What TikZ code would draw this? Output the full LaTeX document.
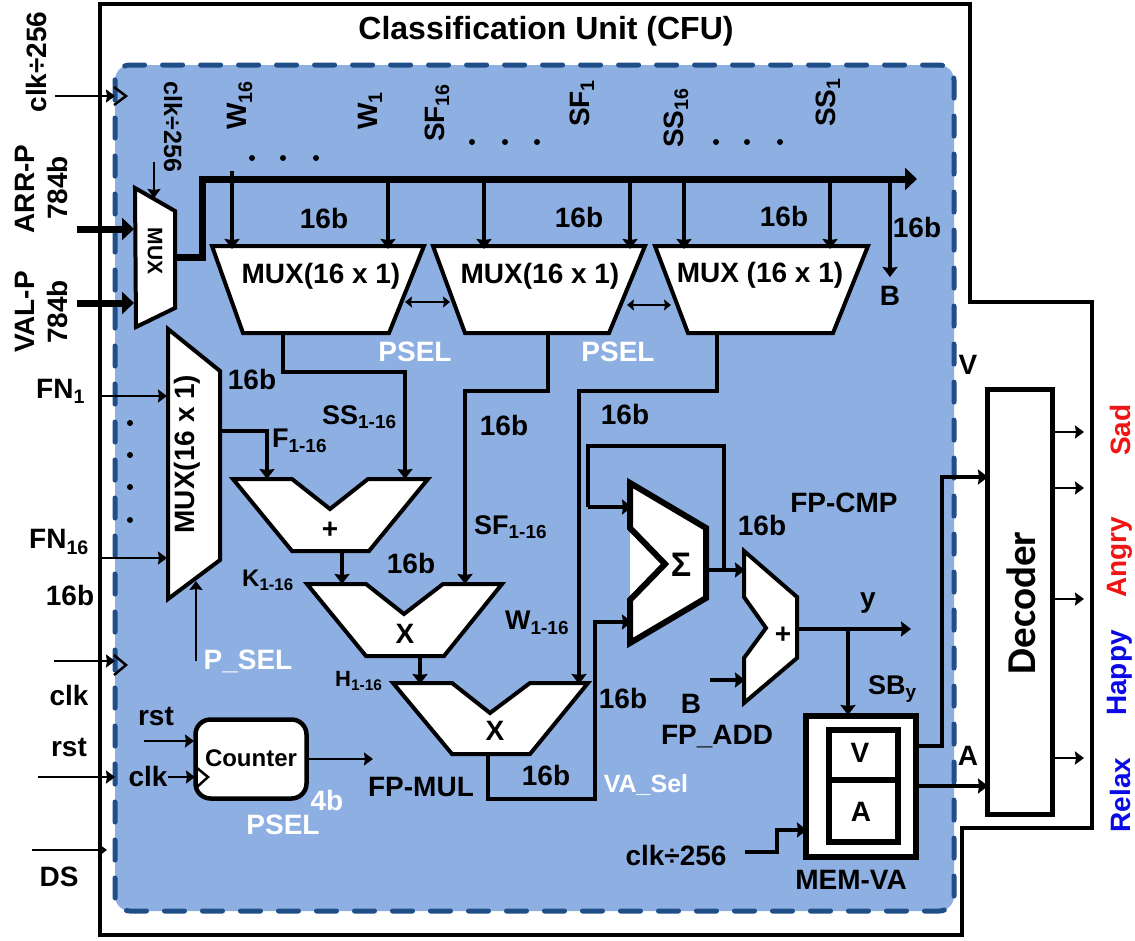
\documentclass[tikz,border=0pt]{standalone}
\usepackage{fontspec}
\setmainfont{Liberation Sans}
\newfontfamily\decfont{Carlito}
\usetikzlibrary{arrows.meta}
\definecolor{cfublue}{RGB}{141,175,226}
\definecolor{cfudash}{RGB}{31,78,136}
\definecolor{sadred}{RGB}{240,20,20}
\definecolor{relaxblue}{RGB}{10,10,230}
\tikzset{
  lbl/.style={font=\fontsize{28}{30}\selectfont\bfseries, inner sep=0pt},
  sublbl/.style={lbl, font=\fontsize{27}{29}\selectfont\bfseries},
  wlbl/.style={lbl, text=white},
  sideup/.style={lbl, rotate=90},
  shp/.style={draw=black, fill=white, line width=4pt},
  outline/.style={draw=black, line width=3.5pt},
  wire/.style={line width=4pt, -{Stealth[length=10pt,width=15pt,inset=1pt]}},
  plainwire/.style={line width=4pt},
  thinw/.style={line width=2.8pt, -{Stealth[length=9pt,width=13pt,inset=1pt]}},
  dblw/.style={line width=2pt, {Stealth[length=7pt,width=11pt,inset=1pt]}-{Stealth[length=7pt,width=11pt,inset=1pt]}},
  fatw/.style={line width=7pt, -{Stealth[length=12pt,width=22pt,inset=0pt]}},
  clkmark/.style={line width=2.5pt, black},
  dotmark/.style={circle, fill=black, minimum size=6pt, inner sep=0pt}
}
\begin{document}
\begin{tikzpicture}[x=1pt,y=-1pt]
\useasboundingbox (0,0) rectangle (1135,940);
\fill[white] (0,0) rectangle (1135,940);
% frames
\draw[outline] (100,4) -- (970,4) -- (970,302) -- (1092,302) -- (1092,828) -- (962,828) -- (962,935) -- (100,935) -- cycle;
\draw[fill=cfublue, draw=cfudash, line width=5pt, line cap=round, dash pattern=on 20pt off 18pt, rounded corners=15pt]
  (115,65) rectangle (954,911);
\node[lbl, font=\fontsize{32}{34}\selectfont\bfseries] (title) at (546,31) {Classification Unit (CFU)};

% input mux
\draw[shp] (135,188) -- (175,211) -- (175,308) -- (136,327) -- cycle;
\node[lbl, rotate=-90, font=\fontsize{21}{23}\selectfont\bfseries] (muxp) at (155,251) {MUX};
\coordinate (muxp-a) at (134,229);
\coordinate (muxp-b) at (134,303);
\coordinate (muxp-s) at (154,198);
\coordinate (muxp-o) at (175,257);

% parameter muxes
\draw[shp] (212,246) -- (424,246) -- (389,333) -- (243,333) -- cycle;
\draw[shp] (433,246) -- (645,246) -- (609,333) -- (465,333) -- cycle;
\draw[shp] (655,246) -- (868,246) -- (833,333) -- (688,333) -- cycle;
\node[lbl] (mxw) at (321,276) {MUX(16 x 1)};
\node[lbl] (mxf) at (540,276) {MUX(16 x 1)};
\node[lbl] (mxs) at (760,275) {MUX (16 x 1)};
\coordinate (mxw-a) at (232,249);
\coordinate (mxw-b) at (388,249);
\coordinate (mxf-a) at (484,249);
\coordinate (mxf-b) at (630,249);
\coordinate (mxs-a) at (684,249);
\coordinate (mxs-b) at (830,249);
\coordinate (mxw-o) at (283,333);
\coordinate (mxf-o) at (548,333);
\coordinate (mxs-o) at (717,333);
\coordinate (mxw-r) at (405,302);
\coordinate (mxf-l) at (450,302);
\coordinate (mxf-r) at (627,305);
\coordinate (mxs-l) at (671,305);

% feature mux
\draw[shp] (168,329) -- (220,371) -- (220,560) -- (168,599) -- cycle;
\node[lbl, rotate=90] (mxn) at (187,454) {MUX(16 x 1)};
\coordinate (mxn-a) at (167,396);
\coordinate (mxn-b) at (167,558);
\coordinate (mxn-s) at (196,581);
\coordinate (mxn-o) at (220,431);

% adder and multipliers
\draw[shp] (233,479) -- (292,479) -- (330,509) -- (368,479) -- (428,479) -- (369,551) -- (292,551) -- cycle;
\node[lbl] (addk) at (330,530) {+};
\draw[shp] (307,584) -- (366,584) -- (404,614) -- (443,584) -- (502,584) -- (444,656) -- (366,656) -- cycle;
\node[lbl] (mula) at (405,634) {X};
\draw[shp] (393,683) -- (452,683) -- (490,713) -- (530,683) -- (588,683) -- (530,754) -- (452,754) -- cycle;
\node[lbl] (mulb) at (495,731) {X};
\coordinate (addk-a) at (267,479);
\coordinate (addk-b) at (405,479);
\coordinate (addk-o) at (342,551);
\coordinate (mula-a) at (342,584);
\coordinate (mula-b) at (465,584);
\coordinate (mula-o) at (420,656);
\coordinate (mulb-a) at (420,684);
\coordinate (mulb-b) at (579,684);
\coordinate (mulb-o) at (488,754);

% accumulator, y adder
\fill[white] (630,483) -- (706,528) -- (706,598) -- (630,643) -- cycle;
\draw[line width=6pt, line join=miter] (630,483) -- (706,528) -- (706,598) -- (630,643) -- (630,600) -- (665,564) -- (630,528) -- cycle;
\node[lbl, font=\fontsize{34}{36}\selectfont\bfseries] (sigma) at (681,565) {Σ};
\coordinate (sig-a) at (632,507);
\coordinate (sig-b) at (632,622);
\coordinate (sig-o) at (706,570);
\draw[shp] (744,551) -- (797,597) -- (797,658) -- (744,703) -- (744,658) -- (766,628) -- (744,597) -- cycle;
\node[lbl] (addy) at (783,635) {+};
\coordinate (addy-a) at (745,570);
\coordinate (addy-b) at (745,680);
\coordinate (addy-o) at (797,629);
\coordinate (yout) at (911,629);

% memory
\draw[draw=black, fill=white, line width=5.5pt] (806,716) rectangle (916,857);
\draw[draw=black, fill=white, line width=5.5pt] (829,730) rectangle (898,842);
\draw[line width=5.5pt] (829,780) -- (898,780);
\node[lbl] (memv) at (860,753) {V};
\node[lbl] (mema) at (861,812) {A};
\coordinate (mem-in) at (848,715);
\coordinate (mem-clk) at (807,830);
\coordinate (mem-v) at (916,746);
\coordinate (mem-a) at (916,786);

% decoder
\node[draw=black, fill=white, line width=5.5pt, minimum width=65pt, minimum height=425pt, inner sep=0pt] (dec) at (1020,602) {};
\node[rotate=90, font=\fontsize{41}{43}\selectfont\bfseries\decfont] (dectxt) at (1021,603) {Decoder};
\coordinate (dec-v) at (988,477);
\coordinate (dec-a) at (988,786);
\coordinate (dec-1) at (1053,432);
\coordinate (dec-2) at (1053,488);
\coordinate (dec-3) at (1053,599);
\coordinate (dec-4) at (1053,758);
\coordinate (out-1) at (1084,432);
\coordinate (out-2) at (1084,488);
\coordinate (out-3) at (1084,599);
\coordinate (out-4) at (1084,758);

% counter
\node[draw=black, fill=white, line width=4.5pt, rounded corners=15pt, minimum width=111pt, minimum height=79pt, inner sep=0pt] (cnt) at (251,759) {};
\node[lbl, font=\fontsize{24}{26}\selectfont\bfseries] (cnttxt) at (251,758) {Counter};
\coordinate (cnt-r) at (194,741);
\coordinate (cnt-c) at (195,777);
\coordinate (cnt-o) at (373,759);

% free ends of the inputs
\coordinate (in-clkd) at (55,96);
\coordinate (in-clkd-e) at (115,96);
\coordinate (in-arr) at (77,229);
\coordinate (in-val) at (77,303);
\coordinate (in-clks) at (154,162);
\coordinate (in-fn1) at (100,396);
\coordinate (in-fn16) at (100,558);
\coordinate (in-psel) at (196,661);
\coordinate (in-clk) at (54,661);
\coordinate (in-clk-e) at (115,661);
\coordinate (in-rst) at (38,777);
\coordinate (in-rst-e) at (115,777);
\coordinate (in-rst2) at (144,741);
\coordinate (in-clk2) at (168,777);
\coordinate (in-ds) at (32,850);
\coordinate (in-ds-e) at (107,850);
\coordinate (in-b) at (710,680);
\coordinate (in-clkm) at (745,852);

% bus
\coordinate (bus-end) at (917,179);
\foreach \n/\x/\y in {w/232/171,x/388/179,f/484/179,g/630/179,s/684/179,t/830/179,b/890/179}
  \coordinate (tap-\n) at (\x,\y);
\coordinate (bus-b) at (890,277);
\draw[wire] (tap-w) -- (mxw-a);
\draw[wire] (tap-x) -- (mxw-b);
\draw[wire] (tap-f) -- (mxf-a);
\draw[wire] (tap-g) -- (mxf-b);
\draw[wire] (tap-s) -- (mxs-a);
\draw[wire] (tap-t) -- (mxs-b);
\draw[wire] (tap-b) -- (bus-b);
\draw[fatw] (muxp-o) -- (202,257) -- (202,179) -- (bus-end);
\draw[fatw] (in-arr) -- (muxp-a);
\draw[fatw] (in-val) -- (muxp-b);
\draw[thinw] (in-clks) -- (muxp-s);

% datapath
\draw[dblw] (mxw-r) -- (mxf-l);
\draw[dblw] (mxf-r) -- (mxs-l);
\draw[wire] (mxw-o) -- ++(0,39) -| (addk-b);
\draw[wire] (mxf-o) -- ++(0,58) -| (mula-b);
\draw[wire] (mxs-o) -- ++(0,58) -| (mulb-b);
\draw[wire] (mxn-o) -| (addk-a);
\draw[wire] (addk-o) -- (mula-a);
\draw[wire] (mula-o) -- (mulb-a);
\draw[wire] (mulb-o) -- ++(0,45) -- ++(107,0) |- (sig-b);
\draw[wire] (sig-o) -- (addy-a);
\draw[plainwire] (724,570) -- (724,446) -- (588,446) -- (588,507);
\draw[wire] (588,507) -- (sig-a);
\draw[wire] (in-b) -- (addy-b);
\draw[wire] (addy-o) -- (yout);
\draw[wire] (848,629) -- (mem-in);
\draw[wire] (in-clkm) -- ++(32,0) |- (mem-clk);
\draw[wire] (mem-v) -- ++(26,0) |- (dec-v);
\draw[wire] (mem-a) -- (dec-a);
\draw[thinw] (dec-1) -- (out-1);
\draw[thinw] (dec-2) -- (out-2);
\draw[thinw] (dec-3) -- (out-3);
\draw[thinw] (dec-4) -- (out-4);

% inputs
\draw[thinw] (in-clkd) -- (in-clkd-e);
\draw[clkmark] (114,87) -- (126,96) -- (114,105);
\draw[thinw] (in-fn1) -- (mxn-a);
\draw[thinw] (in-fn16) -- (mxn-b);
\draw[thinw] (in-psel) -- (mxn-s);
\draw[thinw] (in-clk) -- (in-clk-e);
\draw[clkmark] (114,655) -- (126,665) -- (114,675);
\draw[thinw] (in-rst) -- (in-rst-e);
\draw[thinw] (in-rst2) -- (cnt-r);
\draw[thinw] (in-clk2) -- (cnt-c);
\draw[clkmark] (197,768) -- (208,777) -- (197,787);
\draw[thinw] (cnt.east) -- (cnt-o);
\draw[thinw] (in-ds) -- (in-ds-e);

% dots
\foreach \n/\x/\y in {a/252/158,b/283/158,c/316/158,d/472/142,e/505/142,f/537/142,g/716/142,h/747/142,i/780/142,j/130/423,k/130/455,l/130/487,m/130/520}
  \node[dotmark] (dot-\n) at (\x,\y) {};

% labels
\node[sideup] (l-clkd) at (36,62) {clk÷256};
\node[sideup] (l-arr) at (25,189) {ARR-P};
\node[sideup] (l-arrb) at (57,188) {784b};
\node[sideup] (l-val) at (25,312) {VAL-P};
\node[sideup] (l-valb) at (57,312) {784b};
\node[lbl, rotate=-90, font=\fontsize{25}{27}\selectfont\bfseries] (l-clks) at (173,127) {clk÷256};
\node[sideup, anchor=west] (l-w16) at (240,130) {W\textsubscript{16}};
\node[sideup, anchor=west] (l-w1) at (370,130) {W\textsubscript{1}};
\node[sideup, anchor=west] (l-sf16) at (437,142) {SF\textsubscript{16}};
\node[sideup, anchor=west] (l-sf1) at (582,127) {SF\textsubscript{1}};
\node[sideup, anchor=west] (l-ss16) at (676,148) {SS\textsubscript{16}};
\node[sideup, anchor=west] (l-ss1) at (828,127) {SS\textsubscript{1}};
\node[lbl] (b-w) at (324,218) {16b};
\node[lbl] (b-f) at (579,217) {16b};
\node[lbl] (b-s) at (784,216) {16b};
\node[lbl] (b-b) at (917,227) {16b};
\node[lbl] (l-b) at (890,296) {B};
\node[wlbl] (p-a) at (415,352) {PSEL};
\node[wlbl] (p-b) at (618,352) {PSEL};
\node[lbl] (b-n) at (252,379) {16b};
\node[lbl, anchor=west] (l-fn1) at (36,391) {FN\textsubscript{1}};
\node[lbl, anchor=west] (l-fn16) at (29,542) {FN\textsubscript{16}};
\node[lbl] (b-fn) at (70,595) {16b};
\node[sublbl, anchor=west] (l-ss) at (322,417) {SS\textsubscript{1-16}};
\node[sublbl, anchor=west] (l-f) at (272,441) {F\textsubscript{1-16}};
\node[lbl] (b-mf) at (504,425) {16b};
\node[lbl] (b-ms) at (625,414) {16b};
\node[sublbl, anchor=west] (l-sf) at (474,527) {SF\textsubscript{1-16}};
\node[sublbl, anchor=west, font=\fontsize{24}{26}\selectfont\bfseries] (l-k) at (242,580) {K\textsubscript{1-16}};
\node[lbl] (b-k) at (411,563) {16b};
\node[sublbl, anchor=west] (l-w) at (505,623) {W\textsubscript{1-16}};
\node[sublbl, anchor=west, font=\fontsize{22}{24}\selectfont\bfseries] (l-h) at (335,681) {H\textsubscript{1-16}};
\node[lbl] (l-fpc) at (844,503) {FP-CMP};
\node[lbl] (b-o) at (762,525) {16b};
\node[lbl] (l-y) at (868,603) {y};
\node[lbl] (b-h) at (623,698) {16b};
\node[lbl] (l-bb) at (691,704) {B};
\node[lbl] (l-fpa) at (717,737) {FP\_ADD};
\node[lbl] (b-x) at (546,775) {16b};
\node[wlbl, font=\fontsize{25}{27}\selectfont\bfseries] (l-vas) at (646,785) {VA\_Sel};
\node[sublbl, anchor=west] (l-sby) at (868,689) {SB\textsubscript{y}};
\node[lbl] (l-fpm) at (421,787) {FP-MUL};
\node[lbl] (l-cd) at (676,855) {clk÷256};
\node[lbl] (l-mem) at (851,880) {MEM-VA};
\node[lbl] (l-v) at (968,365) {V};
\node[lbl] (l-a) at (968,756) {A};
\node[wlbl] (l-psel) at (248,661) {P\_SEL};
\node[lbl] (l-clk) at (69,695) {clk};
\node[lbl] (l-rst) at (69,747) {rst};
\node[lbl] (l-rstb) at (156,716) {rst};
\node[lbl] (l-clkb) at (148,776) {clk};
\node[wlbl] (l-4b) at (327,800) {4b};
\node[wlbl] (l-pselb) at (283,825) {PSEL};
\node[lbl] (l-ds) at (59,877) {DS};
\node[sideup, text=sadred] (o-sad) at (1120,430) {Sad};
\node[sideup, text=sadred] (o-ang) at (1120,557) {Angry};
\node[sideup, text=relaxblue] (o-hap) at (1120,673) {Happy};
\node[sideup, text=relaxblue] (o-rel) at (1120,795) {Relax};
\end{tikzpicture}
\end{document}
